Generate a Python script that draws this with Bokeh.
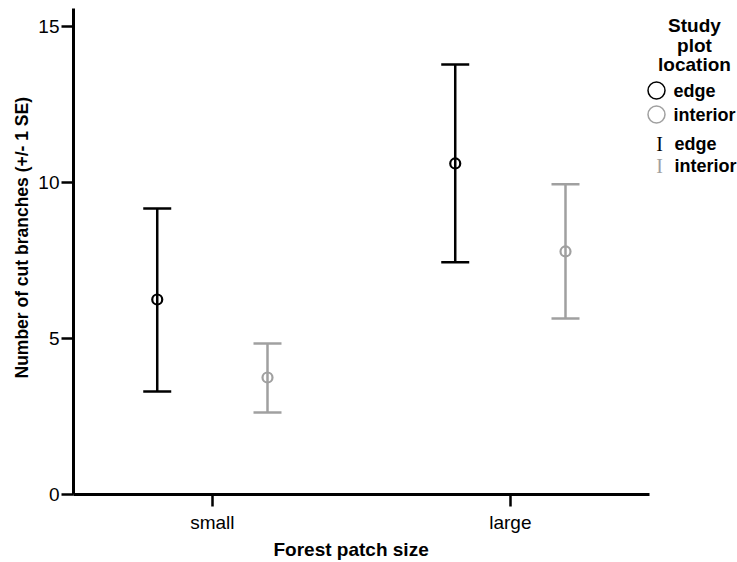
from bokeh.plotting import figure
from bokeh.models import Whisker, ColumnDataSource, FixedTicker, TeeHead, Range1d, Label, Title
from bokeh.embed import file_html
from bokeh.resources import INLINE

# ---- data ----
categories = ["small", "large"]
locations = ["edge", "interior"]
edge_mean = [6.25, 10.61]
edge_upper = [9.17, 13.78]
edge_lower = [3.30, 7.44]
interior_mean = [3.75, 7.79]
interior_upper = [4.84, 9.94]
interior_lower = [2.63, 5.64]
y_ticks = [0, 5, 10, 15]
x_title = "Forest patch size"
y_title = "Number of cut branches (+/- 1 SE)"
legend_title = ["Study", "plot", "location"]

colors = {"edge": "#000000", "interior": "#a0a0a0"}
dodge = {"edge": -0.185, "interior": 0.185}
cat_pos = [i + 1 for i in range(len(categories))]

FONT = "Liberation Sans"
FRAME_LEFT, FRAME_TOP, FRAME_BOTTOM = 73, 8, 494
W, H = 737, 562
PX_PER_X = 298.0
PX_PER_Y = 31.2
X0 = 0.534
X1 = X0 + (W - FRAME_LEFT) / PX_PER_X
Y1 = (FRAME_BOTTOM - FRAME_TOP) / PX_PER_Y

p = figure(width=W, height=H,
           x_range=Range1d(X0, X1), y_range=Range1d(0, Y1),
           output_backend="svg", toolbar_location=None,
           min_border_left=FRAME_LEFT, min_border_right=0, min_border_top=FRAME_TOP,
           min_border_bottom=H - FRAME_BOTTOM)
p.outline_line_color = None
p.grid.visible = False
p.background_fill_color = "white"
p.border_fill_color = "white"

series = {
    "edge": (edge_mean, edge_upper, edge_lower),
    "interior": (interior_mean, interior_upper, interior_lower),
}
for loc in locations:
    m, u, l = series[loc]
    src = ColumnDataSource(dict(x=[c + dodge[loc] for c in cat_pos], mean=m, upper=u, lower=l))
    col = colors[loc]
    w = Whisker(source=src, base="x", upper="upper", lower="lower",
                line_color=col, line_width=2.5,
                upper_head=TeeHead(size=28, line_color=col, line_width=2.5),
                lower_head=TeeHead(size=28, line_color=col, line_width=2.5))
    p.add_layout(w)
    p.scatter("x", "mean", source=src, size=10, line_color=col, line_width=2.2,
              fill_color=None)

# axes
p.xaxis.ticker = FixedTicker(ticks=cat_pos)
p.xaxis.major_label_overrides = {c: lab for c, lab in zip(cat_pos, categories)}
p.xaxis.bounds = (X0, 2.466)
p.yaxis.ticker = FixedTicker(ticks=y_ticks)
for ax in (p.xaxis[0], p.yaxis[0]):
    ax.axis_line_width = 3
    ax.axis_line_color = "black"
    ax.major_tick_line_width = 2.5
    ax.major_tick_line_color = "black"
    ax.major_tick_out = 12
    ax.major_tick_in = 0
    ax.minor_tick_out = 0
    ax.minor_tick_in = 0
    ax.major_label_text_font = FONT
    ax.major_label_text_font_size = "19px"
    ax.major_label_text_color = "black"
p.xaxis.major_label_standoff = 5
p.yaxis.major_label_standoff = 2

# axis titles as Titles (offset like the reference)
p.add_layout(Title(text=x_title, align="left", offset=200, standoff=3,
                   text_font=FONT, text_font_style="bold", text_font_size="19px",
                   text_color="black"), "below")
p.add_layout(Title(text=y_title, align="left", offset=116, standoff=8,
                   text_font=FONT, text_font_style="bold", text_font_size="17.5px",
                   text_color="black"), "left")

def px_x(px):
    return X0 + (px - FRAME_LEFT) / PX_PER_X

def px_y(py):
    return (FRAME_BOTTOM - py) / PX_PER_Y

# ---- legend (manual) ----
for txt, py in zip(legend_title, [25, 45, 64]):
    p.add_layout(Label(x=px_x(694), y=px_y(py), text=txt, text_align="center",
                       text_baseline="middle", text_font=FONT, text_font_style="bold",
                       text_font_size="19px", text_color="black"))

leg_circle_y = [90, 114]
leg_bar_y = [143, 165]
for loc, cy, by in zip(locations, leg_circle_y, leg_bar_y):
    col = colors[loc]
    p.scatter([px_x(656)], [px_y(cy)], size=17, line_color=col, line_width=1.5,
              fill_color=None)
    p.add_layout(Label(x=px_x(673), y=px_y(cy), text=loc, text_align="left",
                       text_baseline="middle", text_font=FONT, text_font_style="bold",
                       text_font_size="18px", text_color="black"))
    p.add_layout(Label(x=px_x(659), y=px_y(by), text="I", text_align="center",
                       text_baseline="middle", text_font="Liberation Serif",
                       text_font_size="20px", text_color=col))
    p.add_layout(Label(x=px_x(674), y=px_y(by), text=loc, text_align="left",
                       text_baseline="middle", text_font=FONT, text_font_style="bold",
                       text_font_size="18px", text_color="black"))

open("out.html", "w").write(file_html(p, INLINE))
